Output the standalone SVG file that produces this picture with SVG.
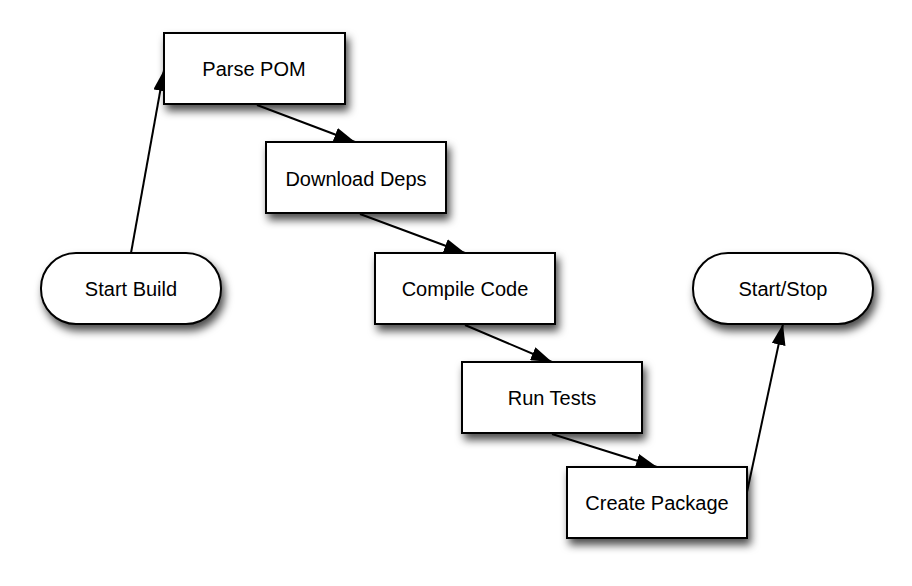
<svg xmlns="http://www.w3.org/2000/svg" width="912" height="586" viewBox="0 0 912 586">
<defs>
<filter id="sh" x="-20%" y="-20%" width="150%" height="170%">
<feDropShadow dx="3" dy="6" stdDeviation="4" flood-color="#000" flood-opacity="0.7"/>
</filter>
<marker id="ah" viewBox="0 0 21 14" refX="21" refY="7" markerWidth="21" markerHeight="14" markerUnits="userSpaceOnUse" orient="auto">
<path d="M0,0 L21,7 L0,14 Z" fill="#000"/>
</marker>
</defs>
<style>
.n{fill:#fff;stroke:#000;stroke-width:2;filter:url(#sh)}
.t{font-family:"Liberation Sans",Arial,sans-serif;font-size:20px;fill:#000;text-anchor:middle;dominant-baseline:central}
.c{stroke:#000;stroke-width:2;fill:none;marker-end:url(#ah)}
</style>
<rect width="912" height="586" fill="#fff"/>
<g id="connectors">
<line class="c" x1="131" y1="253" x2="164" y2="70"/>
<line class="c" x1="257" y1="105" x2="355" y2="142"/>
<line class="c" x1="360" y1="214" x2="465" y2="253"/>
<line class="c" x1="465" y1="325" x2="552" y2="362"/>
<line class="c" x1="552" y1="434" x2="657" y2="467"/>
<line class="c" x1="747" y1="492" x2="783" y2="324"/>
</g>
<g id="start-build"><rect class="n" x="41" y="253" width="180" height="71" rx="35" ry="35"/><text class="t" x="131" y="289">Start Build</text></g>
<g id="parse-pom"><rect class="n" x="164" y="33" width="181" height="71"/><text class="t" x="254" y="69">Parse POM</text></g>
<g id="download-deps"><rect class="n" x="266" y="142" width="180" height="71"/><text class="t" x="356" y="179">Download Deps</text></g>
<g id="compile-code"><rect class="n" x="375" y="253" width="180" height="71"/><text class="t" x="465" y="289">Compile Code</text></g>
<g id="run-tests"><rect class="n" x="462" y="362" width="180" height="71"/><text class="t" x="552" y="398">Run Tests</text></g>
<g id="create-package"><rect class="n" x="567" y="467" width="180" height="71"/><text class="t" x="657" y="503">Create Package</text></g>
<g id="start-stop"><rect class="n" x="693" y="253" width="180" height="71" rx="35" ry="35"/><text class="t" x="783" y="289">Start/Stop</text></g>
</svg>
